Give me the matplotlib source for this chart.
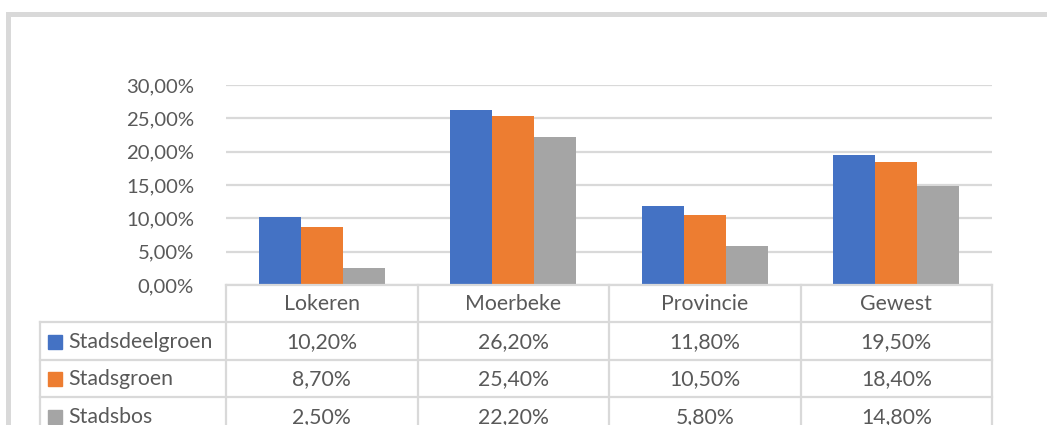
import matplotlib
matplotlib.use("Agg")
import matplotlib.pyplot as plt
from matplotlib.patches import Rectangle

# Data
categories = ["Lokeren", "Moerbeke", "Provincie", "Gewest"]
series_names = ["Stadsdeelgroen", "Stadsgroen", "Stadsbos"]
stadsdeelgroen = [10.2, 26.2, 11.8, 19.5]
stadsgroen = [8.7, 25.4, 10.5, 18.4]
stadsbos = [2.5, 22.2, 5.8, 14.8]
y_ticks = [0, 5, 10, 15, 20, 25, 30]

series = [stadsdeelgroen, stadsgroen, stadsbos]
colors = ["#4472C4", "#ED7D31", "#A5A5A5"]
text_color = "#595959"
line_color = "#D9D9D9"
font = ["Lato", "DejaVu Sans"]
fs = 15.3
tick_fs = 14.6

W, H = 1047, 425
fig = plt.figure(figsize=(W / 100, H / 100), dpi=100)
fig.patch.set_facecolor("white")

def px(x0, y0, x1, y1):
    return [x0 / W, 1 - y1 / H, (x1 - x0) / W, (y1 - y0) / H]

# Outer chart frame
fig.patches.append(Rectangle((7.5 / W, -0.2), 1.2, (H - 14.5) / H + 0.2,
                             transform=fig.transFigure, fill=False,
                             edgecolor="#D9D9D9", linewidth=3.6))

def fmt(v):
    return f"{v:.2f}".replace(".", ",") + "%"

# Plot area
left, right, top, bottom = 226, 992, 85, 285
ax = fig.add_axes(px(left, top, right, bottom))
n = len(categories)
bw = 0.22
for i, (vals, c) in enumerate(zip(series, colors)):
    xs = [k + (i - 1) * bw for k in range(n)]
    ax.bar(xs, vals, width=bw, color=c, zorder=3)
ax.set_xlim(-0.5, n - 0.5)
ax.set_ylim(0, 30)
ax.set_yticks(y_ticks)
ax.set_yticklabels([fmt(t) for t in y_ticks], color=text_color,
                   fontsize=tick_fs, family=font)
ax.tick_params(axis="y", length=0, pad=23)
ax.set_xticks([])
ax.grid(axis="y", color=line_color, linewidth=1.6, zorder=0)
for s in ax.spines.values():
    s.set_visible(False)

# Data table
tx = fig.add_axes([0, 0, 1, 1])
tx.set_xlim(0, W)
tx.set_ylim(H, 0)
tx.axis("off")
col_w = (right - left) / n
col_edges = [left + k * col_w for k in range(n + 1)]
tab_left = 40
header_bottom = 322
row_h = 37.5
row_lines = [header_bottom + r * row_h for r in range(len(series) + 1)]
lw = 1.6

tx.plot([left, right], [bottom, bottom], color=line_color, lw=lw)
for xe in col_edges:
    tx.plot([xe, xe], [bottom, H + 5], color=line_color, lw=lw)
tx.plot([tab_left, tab_left], [header_bottom, H + 5], color=line_color, lw=lw)
for yl in row_lines:
    tx.plot([tab_left, right], [yl, yl], color=line_color, lw=lw)

for k, cat in enumerate(categories):
    tx.text(left + (k + 0.5) * col_w, (bottom + header_bottom) / 2 + 1, cat,
            ha="center", va="center", color=text_color, fontsize=fs, family=font)

for r, (name, vals, c) in enumerate(zip(series_names, series, colors)):
    yc = header_bottom + (r + 0.5) * row_h + 1
    tx.add_patch(Rectangle((48, yc - 7), 14, 14, color=c))
    tx.text(68, yc, name, ha="left", va="center", color=text_color,
            fontsize=fs, family=font)
    for k, v in enumerate(vals):
        tx.text(left + (k + 0.5) * col_w, yc, fmt(v), ha="center", va="center",
                color=text_color, fontsize=fs, family=font)

fig.savefig("out.png", dpi=100)
